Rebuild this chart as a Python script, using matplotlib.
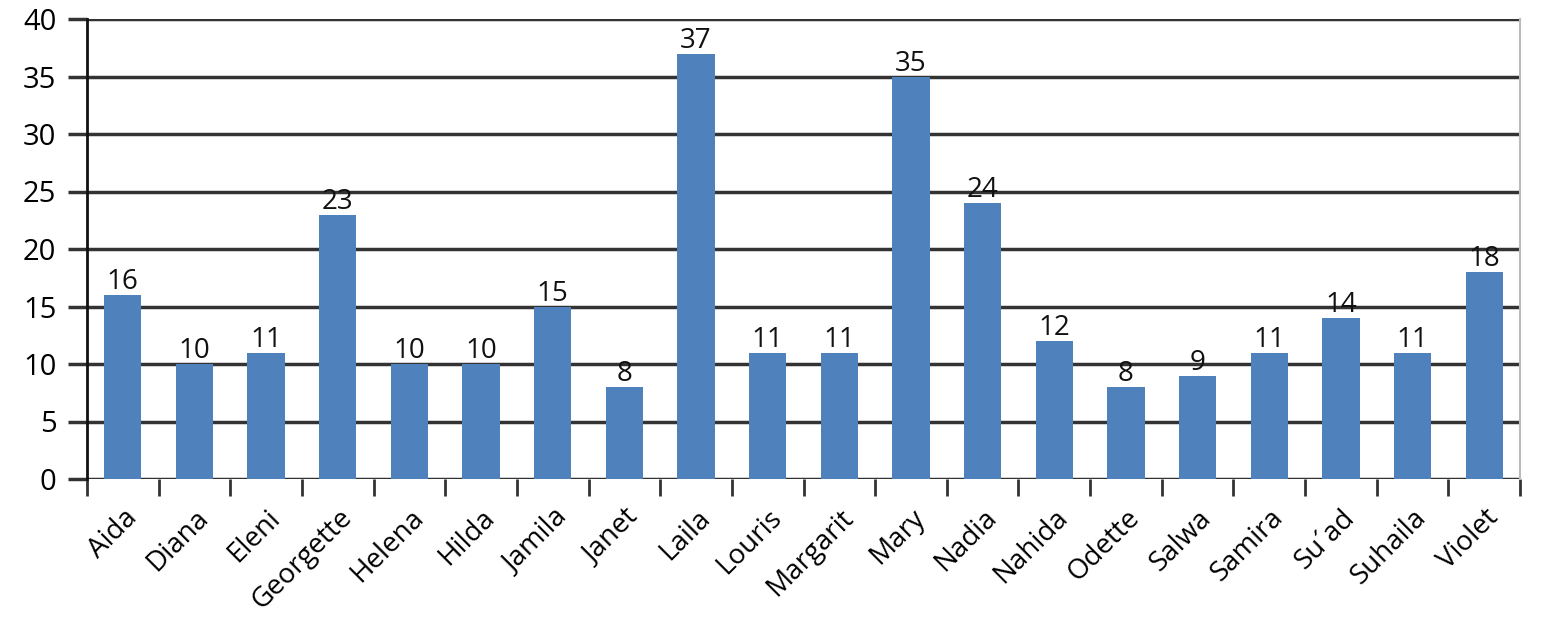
import numpy as np
import matplotlib.pyplot as plt

names = ['Aida', 'Diana', 'Eleni', 'Georgette', 'Helena', 'Hilda', 'Jamila', 'Janet',
         'Laila', 'Louris', 'Margarit', 'Mary', 'Nadia', 'Nahida', 'Odette', 'Salwa',
         'Samira', 'Su\u00b4ad', 'Suhaila', 'Violet']
counts = [16, 10, 11, 23, 10, 10, 15, 8, 37, 11, 11, 35, 24, 12, 8, 9, 11, 14, 11, 18]
yticks = [0, 5, 10, 15, 20, 25, 30, 35, 40]

plt.rcParams['font.family'] = ['Open Sans', 'DejaVu Sans']

fig = plt.figure(figsize=(15.54, 6.32), dpi=100)
ax = fig.add_axes([87 / 1554, 1 - 479 / 632, (1520 - 87) / 1554, (479 - 19) / 632])

x = np.arange(len(names))
ax.bar(x, counts, width=0.52, color='#4F81BD', zorder=3)
for xi, c in zip(x, counts):
    ax.text(xi, c - 0.1, str(c), ha='center', va='bottom', fontsize=20, color='#111111', zorder=4)

ax.set_xlim(-0.5, len(names) - 0.5)
ax.set_ylim(0, 40)
ax.set_yticks(yticks)
ax.tick_params(axis='y', labelsize=21, length=14, width=2.5, color='#333333', pad=8)
for yv in yticks:
    ax.axhline(yv, color='#333333', lw=2.5, zorder=2)

ax.set_xticks(np.arange(len(names) + 1) - 0.5)
ax.set_xticklabels([])
ax.tick_params(axis='x', length=12, width=2, color='#333333')
ax.set_xticks(x, minor=True)
ax.set_xticklabels(names, minor=True, rotation=45, ha='right', va='top',
                   rotation_mode='anchor', fontsize=20)
ax.tick_params(axis='x', which='minor', length=0, pad=18)

ax.spines['top'].set_visible(False)
ax.spines['bottom'].set_visible(False)
ax.spines['left'].set_linewidth(2)
ax.spines['left'].set_color('#111111')
ax.spines['right'].set_color('#bbbbbb')
ax.spines['right'].set_linewidth(1.5)

fig.savefig('out.png', dpi=100)
